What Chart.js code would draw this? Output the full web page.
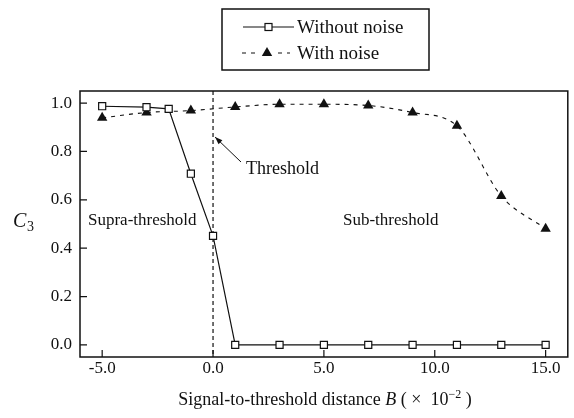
<!DOCTYPE html>
<html>
<head>
<meta charset="utf-8">
<script src="https://cdn.jsdelivr.net/npm/chart.js@4/dist/chart.umd.min.js"></script>
<style>
html, body { margin: 0; padding: 0; background: #fff; }
</style>
</head>
<body>
<canvas id="myChart" width="574" height="418"></canvas>
<script>
// values
const distances = [-5, -3, -2, -1, 0, 1, 3, 5, 7, 9, 11, 13, 15];
const withoutNoise = [0.987, 0.983, 0.976, 0.708, 0.451, 0, 0, 0, 0, 0, 0, 0, 0];
const noiseDistances = [-5, -3, -1, 1, 3, 5, 7, 9, 11, 13, 15];
const withNoise = [0.939, 0.961, 0.969, 0.984, 0.995, 0.995, 0.99, 0.961, 0.906, 0.616, 0.48];
const xTicks = [-5, 0, 5, 10, 15];
const yTicks = [0, 0.2, 0.4, 0.6, 0.8, 1.0];
const thresholdAt = 0;

const ink = '#111';
const serif = '"Liberation Serif", "Times New Roman", serif';

function triangle(ctx, x, y, r) {
    ctx.beginPath();
    ctx.moveTo(x, y - r);
    ctx.lineTo(x + r * 0.866, y + r * 0.5);
    ctx.lineTo(x - r * 0.866, y + r * 0.5);
    ctx.closePath();
    ctx.fill();
}

const extras = {
    id: 'extras',
    beforeDatasetsDraw(chart) {
        const ctx = chart.ctx, a = chart.chartArea;
        const tx = chart.scales.x.getPixelForValue(thresholdAt);
        ctx.save();
        ctx.strokeStyle = ink;
        ctx.lineWidth = 1.2;
        ctx.setLineDash([4, 3]);
        ctx.beginPath();
        ctx.moveTo(tx, a.top);
        ctx.lineTo(tx, a.bottom);
        ctx.stroke();
        ctx.restore();
    },
    afterDraw(chart) {
        const ctx = chart.ctx, a = chart.chartArea;
        const xs = chart.scales.x, ys = chart.scales.y;
        ctx.save();
        ctx.strokeStyle = ink;
        ctx.fillStyle = ink;

        // frame
        ctx.lineWidth = 1.5;
        ctx.strokeRect(a.left, a.top, a.right - a.left, a.bottom - a.top);

        // inward ticks
        ctx.lineWidth = 1.2;
        ctx.beginPath();
        xTicks.forEach(v => {
            const px = xs.getPixelForValue(v);
            ctx.moveTo(px, a.bottom);
            ctx.lineTo(px, a.bottom - 7);
        });
        yTicks.forEach(v => {
            const py = ys.getPixelForValue(v);
            ctx.moveTo(a.left, py);
            ctx.lineTo(a.left + 7, py);
        });
        ctx.stroke();

        // annotations
        ctx.textBaseline = 'middle';
        ctx.textAlign = 'left';
        ctx.font = '17px ' + serif;
        ctx.fillText('Supra-threshold', 88, 221);
        ctx.fillText('Sub-threshold', 343, 221);
        ctx.font = '18px ' + serif;
        ctx.fillText('Threshold', 246, 169);

        // arrow to threshold line
        const ax0 = 241, ay0 = 162, ax1 = xs.getPixelForValue(thresholdAt) + 2, ay1 = 137;
        ctx.lineWidth = 1;
        ctx.beginPath();
        ctx.moveTo(ax0, ay0);
        ctx.lineTo(ax1, ay1);
        ctx.stroke();
        const ang = Math.atan2(ay1 - ay0, ax1 - ax0);
        ctx.beginPath();
        ctx.moveTo(ax1, ay1);
        ctx.lineTo(ax1 - 8 * Math.cos(ang - 0.35), ay1 - 8 * Math.sin(ang - 0.35));
        ctx.lineTo(ax1 - 8 * Math.cos(ang + 0.35), ay1 - 8 * Math.sin(ang + 0.35));
        ctx.closePath();
        ctx.fill();

        // y title C3
        ctx.textBaseline = 'alphabetic';
        ctx.font = 'italic 20px ' + serif;
        ctx.fillText('C', 13, 227);
        ctx.font = '14px ' + serif;
        ctx.fillText('3', 27, 231);

        // x title
        const parts = [
            ['Signal-to-threshold distance ', '18px ', 0],
            ['B', 'italic 18px ', 0],
            [' ( \u00d7  10', '18px ', 0],
            ['\u22122', '12px ', -7],
            [' )', '18px ', 0]
        ];
        let total = 0;
        parts.forEach(p => { ctx.font = p[1] + serif; total += ctx.measureText(p[0]).width; });
        let cx = 325 - total / 2;
        parts.forEach(p => {
            ctx.font = p[1] + serif;
            ctx.fillText(p[0], cx, 405 + p[2]);
            cx += ctx.measureText(p[0]).width;
        });

        // legend
        ctx.lineWidth = 1.5;
        ctx.strokeRect(222, 9, 207, 61);
        ctx.lineWidth = 1.2;
        ctx.beginPath();
        ctx.moveTo(243, 27);
        ctx.lineTo(294, 27);
        ctx.stroke();
        ctx.fillStyle = '#fff';
        ctx.fillRect(265, 23.5, 7, 7);
        ctx.strokeRect(265, 23.5, 7, 7);
        ctx.fillStyle = ink;
        ctx.setLineDash([4, 5]);
        ctx.beginPath();
        ctx.moveTo(242, 53);
        ctx.lineTo(290, 53);
        ctx.stroke();
        ctx.setLineDash([]);
        ctx.fillStyle = '#fff';
        ctx.fillRect(259, 46, 16, 12);
        ctx.fillStyle = ink;
        triangle(ctx, 267, 53, 6);
        ctx.font = '19px ' + serif;
        ctx.textBaseline = 'middle';
        ctx.fillText('Without noise', 297, 28);
        ctx.fillText('With noise', 297, 54);
        ctx.restore();
    }
};

const ctx = document.getElementById('myChart').getContext('2d');
new Chart(ctx, {
    type: 'scatter',
    data: {
        datasets: [{
            label: 'Without noise',
            data: distances.map((x, i) => ({ x: x, y: withoutNoise[i] })),
            showLine: true,
            borderColor: ink,
            borderWidth: 1.2,
            pointStyle: 'rect',
            pointRadius: 5,
            pointBackgroundColor: '#fff',
            pointBorderColor: ink,
            pointBorderWidth: 1.2,
            tension: 0
        }, {
            label: 'With noise',
            data: noiseDistances.map((x, i) => ({ x: x, y: withNoise[i] })),
            showLine: true,
            borderColor: ink,
            borderWidth: 1.1,
            borderDash: [4, 5],
            pointStyle: 'triangle',
            pointRadius: 6,
            pointBackgroundColor: ink,
            pointBorderColor: ink,
            pointBorderWidth: 0,
            cubicInterpolationMode: 'monotone'
        }]
    },
    options: {
        responsive: false,
        animation: false,
        devicePixelRatio: 1,
        layout: { padding: { left: 0, right: 5, top: 91, bottom: 0 } },
        plugins: { legend: { display: false }, tooltip: { enabled: false } },
        scales: {
            x: {
                type: 'linear',
                min: -6,
                max: 16,
                afterBuildTicks: s => { s.ticks = xTicks.map(v => ({ value: v })); },
                afterFit: s => { s.height = 61; },
                grid: { display: false, drawTicks: false },
                border: { display: false },
                ticks: {
                    padding: 1,
                    color: ink,
                    font: { family: serif, size: 17 },
                    callback: v => v.toFixed(1)
                }
            },
            y: {
                min: -0.05,
                max: 1.05,
                afterBuildTicks: s => { s.ticks = yTicks.map(v => ({ value: v })); },
                afterFit: s => { s.width = 80; },
                grid: { display: false, drawTicks: false },
                border: { display: false },
                ticks: {
                    padding: 8,
                    color: ink,
                    font: { family: serif, size: 17 },
                    callback: v => v.toFixed(1)
                }
            }
        }
    },
    plugins: [extras]
});
</script>
</body>
</html>
